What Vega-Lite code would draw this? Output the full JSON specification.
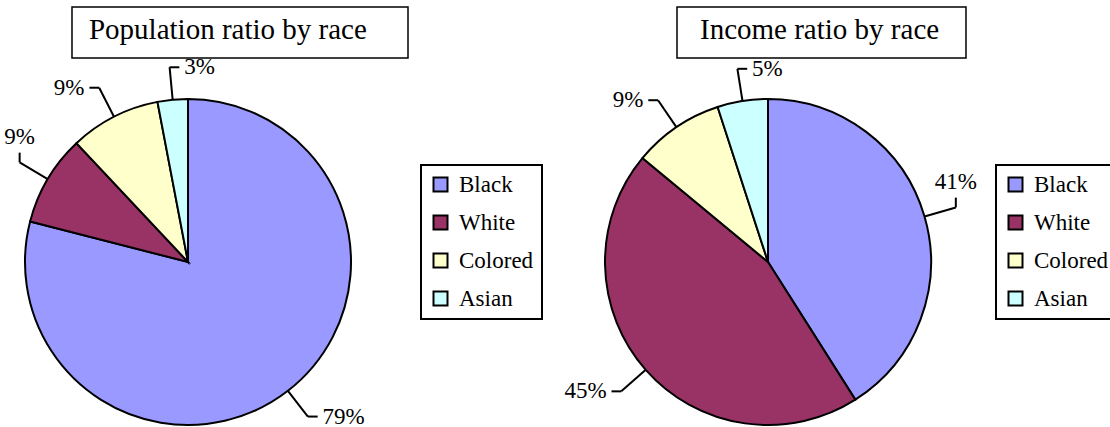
{
  "$schema": "https://vega.github.io/schema/vega-lite/v6.json",
  "padding": 0,
  "autosize": {"type": "pad"},
  "background": "white",
  "config": {
    "view": {"stroke": null},
    "font": "Liberation Serif",
    "text": {"font": "Liberation Serif", "color": "black"}
  },
  "datasets": {
    "shares": [
      {"chart": "Population ratio by race", "race": "Black", "share": 0.79},
      {"chart": "Population ratio by race", "race": "White", "share": 0.09},
      {"chart": "Population ratio by race", "race": "Colored", "share": 0.09},
      {"chart": "Population ratio by race", "race": "Asian", "share": 0.03},
      {"chart": "Income ratio by race", "race": "Black", "share": 0.41},
      {"chart": "Income ratio by race", "race": "White", "share": 0.45},
      {"chart": "Income ratio by race", "race": "Colored", "share": 0.09},
      {"chart": "Income ratio by race", "race": "Asian", "share": 0.05}
    ]
  },
  "spacing": 0,
  "bounds": "flush",
  "resolve": {"scale": {"color": "independent"}, "legend": {"color": "independent"}},
  "hconcat": [
    {
      "width": 578,
      "height": 427,
      "data": {"name": "shares"},
      "transform": [
        {"filter": "datum.chart === 'Population ratio by race'"},
        {"calculate": "indexof(['Black','White','Colored','Asian'], datum.race)", "as": "rank"},
        {"window": [{"op": "sum", "field": "share", "as": "cum"}], "sort": [{"field": "rank"}], "frame": [null, 0]},
        {"joinaggregate": [{"op": "sum", "field": "share", "as": "total"}]},
        {"calculate": "2 * PI * (datum.cum - datum.share / 2) / datum.total", "as": "mid"},
        {"calculate": "sin(datum.mid)", "as": "s"},
        {"calculate": "cos(datum.mid)", "as": "c"},
        {"calculate": "abs(datum.s) > 0.85", "as": "vert"},
        {"calculate": "datum.s > -0.3 ? 1 : -1", "as": "hs"},
        {"calculate": "datum.c > 0 ? 1 : -1", "as": "vs"},
        {"calculate": "1.2 * datum.s", "as": "bx"},
        {"calculate": "1.2 * datum.c", "as": "by"},
        {"calculate": "datum.vert ? datum.bx : datum.bx + datum.hs * 0.06", "as": "cx"},
        {"calculate": "datum.vert ? datum.by + datum.vs * 0.06 : datum.by", "as": "cy"},
        {"calculate": "datum.vert ? datum.bx : datum.bx + datum.hs * 0.09", "as": "lx"},
        {"calculate": "datum.vert ? datum.by + datum.vs * 0.085 : datum.by", "as": "ly"},
        {"calculate": "datum.vert ? (datum.vs > 0 ? 'above' : 'below') : (datum.hs > 0 ? 'right' : 'left')", "as": "side"}
      ],
      "layer": [
        {
          "mark": {"type": "arc", "outerRadius": 163, "stroke": "black", "strokeWidth": 2},
          "encoding": {
            "x": {"datum": 0, "type": "quantitative", "axis": null, "scale": {"type": "linear", "domain": [-1.15337, 2.39264], "nice": false, "zero": false}},
            "y": {"datum": 0, "type": "quantitative", "axis": null, "scale": {"type": "linear", "domain": [-1.01227, 1.60736], "nice": false, "zero": false}},
            "theta": {"field": "share", "type": "quantitative", "stack": true},
            "order": {"field": "rank", "type": "quantitative"},
            "color": {
              "field": "race",
              "type": "nominal",
              "scale": {"domain": ["Black", "White", "Colored", "Asian"], "range": ["#9999FF", "#993366", "#FFFFCC", "#CCFFFF"]},
              "legend": {
                "title": null, "orient": "none", "legendX": 421, "legendY": 165,
                "symbolType": "square", "symbolSize": 196, "symbolStrokeColor": "black", "symbolStrokeWidth": 2, "symbolOpacity": 1,
                "labelFont": "Liberation Serif", "labelFontSize": 23, "labelColor": "black", "labelOffset": 7,
                "rowPadding": 14, "padding": 8, "strokeColor": "black",
                "encode": {"legend": {"update": {"strokeWidth": {"value": 2}}}}
              }
            }
          }
        },
        {
          "mark": {"type": "rule", "stroke": "black", "strokeWidth": 2},
          "encoding": {
            "x": {"field": "s", "type": "quantitative"},
            "y": {"field": "c", "type": "quantitative"},
            "x2": {"field": "bx"},
            "y2": {"field": "by"}
          }
        },
        {
          "mark": {"type": "rule", "stroke": "black", "strokeWidth": 2},
          "encoding": {
            "x": {"field": "bx", "type": "quantitative"},
            "y": {"field": "by", "type": "quantitative"},
            "x2": {"field": "cx"},
            "y2": {"field": "cy"}
          }
        },
        {
          "encoding": {
            "x": {"field": "lx", "type": "quantitative"},
            "y": {"field": "ly", "type": "quantitative"},
            "text": {"field": "share", "type": "quantitative", "format": ".0%"}
          },
          "layer": [
            {"transform": [{"filter": "datum.side === 'right'"}], "mark": {"type": "text", "align": "left", "baseline": "middle", "fontSize": 23}},
            {"transform": [{"filter": "datum.side === 'left'"}], "mark": {"type": "text", "align": "right", "baseline": "middle", "fontSize": 23}},
            {"transform": [{"filter": "datum.side === 'above'"}], "mark": {"type": "text", "align": "center", "baseline": "bottom", "fontSize": 23}},
            {"transform": [{"filter": "datum.side === 'below'"}], "mark": {"type": "text", "align": "center", "baseline": "top", "fontSize": 23}}
          ]
        },
        {
          "transform": [{"filter": "datum.rank === 0"}],
          "mark": {"type": "rect", "fill": "white", "stroke": "black", "strokeWidth": 1.5},
          "encoding": {
            "x": {"datum": -0.7117, "type": "quantitative"},
            "x2": {"datum": 1.3497},
            "y": {"datum": 1.5644, "type": "quantitative"},
            "y2": {"datum": 1.2515}
          }
        },
        {
          "transform": [{"filter": "datum.rank === 0"}],
          "mark": {"type": "text", "align": "left", "baseline": "alphabetic", "fontSize": 29},
          "encoding": {
            "x": {"datum": -0.6074, "type": "quantitative"},
            "y": {"datum": 1.3681, "type": "quantitative"},
            "text": {"field": "chart", "type": "nominal"}
          }
        }
      ]
    },
    {
      "width": 532,
      "height": 427,
      "data": {"name": "shares"},
      "transform": [
        {"filter": "datum.chart === 'Income ratio by race'"},
        {"calculate": "indexof(['Black','White','Colored','Asian'], datum.race)", "as": "rank"},
        {"window": [{"op": "sum", "field": "share", "as": "cum"}], "sort": [{"field": "rank"}], "frame": [null, 0]},
        {"joinaggregate": [{"op": "sum", "field": "share", "as": "total"}]},
        {"calculate": "2 * PI * (datum.cum - datum.share / 2) / datum.total", "as": "mid"},
        {"calculate": "sin(datum.mid)", "as": "s"},
        {"calculate": "cos(datum.mid)", "as": "c"},
        {"calculate": "abs(datum.s) > 0.85", "as": "vert"},
        {"calculate": "datum.s > -0.3 ? 1 : -1", "as": "hs"},
        {"calculate": "datum.c > 0 ? 1 : -1", "as": "vs"},
        {"calculate": "1.2 * datum.s", "as": "bx"},
        {"calculate": "1.2 * datum.c", "as": "by"},
        {"calculate": "datum.vert ? datum.bx : datum.bx + datum.hs * 0.06", "as": "cx"},
        {"calculate": "datum.vert ? datum.by + datum.vs * 0.06 : datum.by", "as": "cy"},
        {"calculate": "datum.vert ? datum.bx : datum.bx + datum.hs * 0.09", "as": "lx"},
        {"calculate": "datum.vert ? datum.by + datum.vs * 0.085 : datum.by", "as": "ly"},
        {"calculate": "datum.vert ? (datum.vs > 0 ? 'above' : 'below') : (datum.hs > 0 ? 'right' : 'left')", "as": "side"}
      ],
      "layer": [
        {
          "mark": {"type": "arc", "outerRadius": 163, "stroke": "black", "strokeWidth": 2},
          "encoding": {
            "x": {"datum": 0, "type": "quantitative", "axis": null, "scale": {"type": "linear", "domain": [-1.16564, 2.09816], "nice": false, "zero": false}},
            "y": {"datum": 0, "type": "quantitative", "axis": null, "scale": {"type": "linear", "domain": [-1.01227, 1.60736], "nice": false, "zero": false}},
            "theta": {"field": "share", "type": "quantitative", "stack": true},
            "order": {"field": "rank", "type": "quantitative"},
            "color": {
              "field": "race",
              "type": "nominal",
              "scale": {"domain": ["Black", "White", "Colored", "Asian"], "range": ["#9999FF", "#993366", "#FFFFCC", "#CCFFFF"]},
              "legend": {
                "title": null, "orient": "none", "legendX": 418, "legendY": 165,
                "symbolType": "square", "symbolSize": 196, "symbolStrokeColor": "black", "symbolStrokeWidth": 2, "symbolOpacity": 1,
                "labelFont": "Liberation Serif", "labelFontSize": 23, "labelColor": "black", "labelOffset": 7,
                "rowPadding": 14, "padding": 8, "strokeColor": "black",
                "encode": {"legend": {"update": {"strokeWidth": {"value": 2}}}}
              }
            }
          }
        },
        {
          "mark": {"type": "rule", "stroke": "black", "strokeWidth": 2},
          "encoding": {
            "x": {"field": "s", "type": "quantitative"},
            "y": {"field": "c", "type": "quantitative"},
            "x2": {"field": "bx"},
            "y2": {"field": "by"}
          }
        },
        {
          "mark": {"type": "rule", "stroke": "black", "strokeWidth": 2},
          "encoding": {
            "x": {"field": "bx", "type": "quantitative"},
            "y": {"field": "by", "type": "quantitative"},
            "x2": {"field": "cx"},
            "y2": {"field": "cy"}
          }
        },
        {
          "encoding": {
            "x": {"field": "lx", "type": "quantitative"},
            "y": {"field": "ly", "type": "quantitative"},
            "text": {"field": "share", "type": "quantitative", "format": ".0%"}
          },
          "layer": [
            {"transform": [{"filter": "datum.side === 'right'"}], "mark": {"type": "text", "align": "left", "baseline": "middle", "fontSize": 23}},
            {"transform": [{"filter": "datum.side === 'left'"}], "mark": {"type": "text", "align": "right", "baseline": "middle", "fontSize": 23}},
            {"transform": [{"filter": "datum.side === 'above'"}], "mark": {"type": "text", "align": "center", "baseline": "bottom", "fontSize": 23}},
            {"transform": [{"filter": "datum.side === 'below'"}], "mark": {"type": "text", "align": "center", "baseline": "top", "fontSize": 23}}
          ]
        },
        {
          "transform": [{"filter": "datum.rank === 0"}],
          "mark": {"type": "rect", "fill": "white", "stroke": "black", "strokeWidth": 1.5},
          "encoding": {
            "x": {"datum": -0.5583, "type": "quantitative"},
            "x2": {"datum": 1.2147},
            "y": {"datum": 1.5644, "type": "quantitative"},
            "y2": {"datum": 1.2515}
          }
        },
        {
          "transform": [{"filter": "datum.rank === 0"}],
          "mark": {"type": "text", "align": "left", "baseline": "alphabetic", "fontSize": 29},
          "encoding": {
            "x": {"datum": -0.4172, "type": "quantitative"},
            "y": {"datum": 1.3681, "type": "quantitative"},
            "text": {"field": "chart", "type": "nominal"}
          }
        }
      ]
    }
  ]
}
